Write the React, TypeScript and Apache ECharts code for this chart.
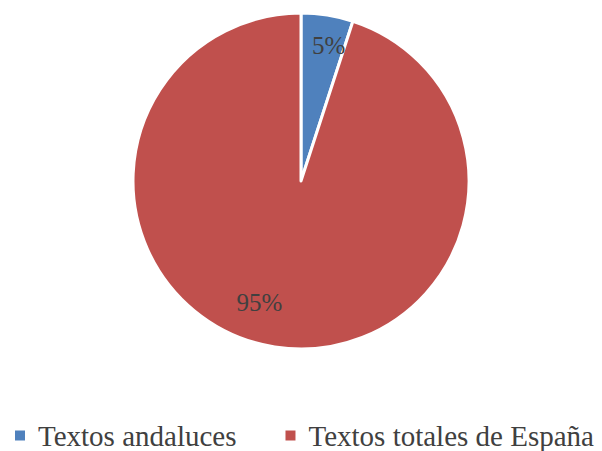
import React, { useEffect, useRef } from "react";
import * as echarts from "echarts";

const categories = ["Textos andaluces", "Textos totales de España"];
const values = [5, 95];
const colors = ["#4F81BD", "#C0504D"];
const labelShifts = [
  [14, -50],
  [-28, 36],
];

const SERIF = "Liberation Serif";

export default function App() {
  const ref = useRef<HTMLDivElement>(null);
  useEffect(() => {
    if (!ref.current) return;
    const chart = echarts.init(ref.current, undefined, { renderer: "svg" });
    chart.setOption({
      animation: false,
      backgroundColor: "#ffffff",
      textStyle: { fontFamily: SERIF },
      legend: {
        data: categories,
        left: 15,
        top: 421,
        width: 800,
        padding: 0,
        icon: "path://M0,0H10V10H0Z M18,0",
        itemWidth: 18,
        itemHeight: 10,
        itemGap: 49,
        itemStyle: { borderWidth: 0 },
        textStyle: {
          fontFamily: SERIF,
          fontSize: 29,
          color: "#404040",
        },
      },
      series: [
        {
          type: "pie",
          center: [301, 181],
          radius: [0, 168],
          startAngle: 90,
          clockwise: true,
          itemStyle: { borderColor: "#ffffff", borderWidth: 3 },
          label: {
            show: true,
            position: "inside",
            formatter: "{c}%",
            fontFamily: SERIF,
            fontSize: 25,
            color: "#404040",
          },
          labelLine: { show: false },
          labelLayout: (p: any) => ({
            dx: labelShifts[p.dataIndex][0],
            dy: labelShifts[p.dataIndex][1],
          }),
          emphasis: { disabled: true },
          data: categories.map((name, i) => ({
            name,
            value: values[i],
            itemStyle: { color: colors[i] },
          })),
        },
      ],
    });
    return () => chart.dispose();
  }, []);
  return (
    <div
      ref={ref}
      style={{ position: "fixed", left: 0, top: 0, width: 602, height: 451 }}
    />
  );
}
